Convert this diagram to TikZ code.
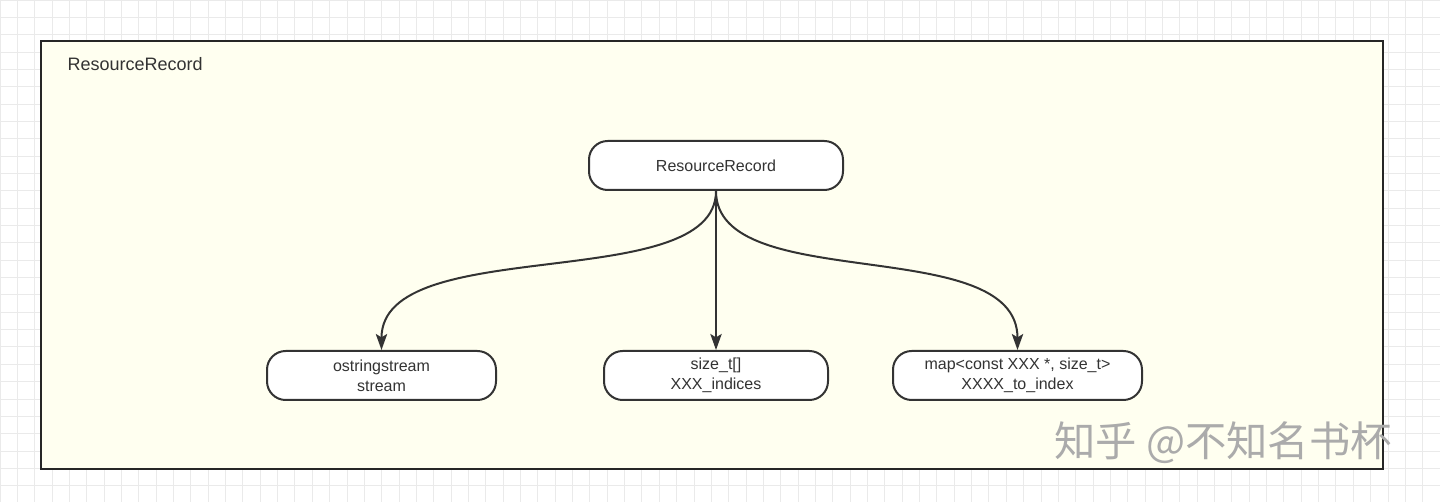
\documentclass[tikz,border=0pt]{standalone}
\usepackage{fontspec}
\setmainfont{Liberation Sans}
\newfontfamily\cjk{Noto Sans CJK SC}
\usetikzlibrary{arrows.meta}
\definecolor{gridc}{HTML}{EAEAEA}
\definecolor{framefill}{HTML}{FFFFF0}
\definecolor{ink}{HTML}{333333}
\definecolor{wm}{HTML}{ABABAB}
\tikzset{
  box/.style={draw=ink, line width=1.5pt, fill=white, rounded corners=14pt,
    minimum height=36.75pt, inner sep=2pt, align=center, text=ink,
    font=\fontsize{12}{15}\selectfont},
  conn/.style={draw=ink, line width=1.5pt,
    -{Stealth[length=12pt, width=8.5pt, inset=2.5pt]}},
  frame/.style={draw=black!85, line width=1.5pt, fill=framefill},
}
\begin{document}
\begin{tikzpicture}[x=0.75pt, y=-0.75pt]
\useasboundingbox (0,0) rectangle (1440,502);
\fill[white] (0,0) rectangle (1440,502);
\draw[gridc, line width=0.75pt, step=13.0125pt] (0,0) grid (1440,502);
\draw[frame] (41,41) rectangle (1383,469);
\node[anchor=west, text=ink, font=\fontsize{13.5}{16}\selectfont] (title) at (63,64) {ResourceRecord};
\node[box, minimum width=190.5pt] (rr) at (716,165.5) {ResourceRecord};
\node[box, minimum width=171.75pt] (os) at (381.5,375.5) {ostringstream\\stream};
\node[box, minimum width=168pt] (idx) at (716,375.5) {size\_t[]\\XXX\_indices};
\node[box, minimum width=186.75pt] (map) at (1017.5,375.5) {map<const XXX *, size\_t>\\XXXX\_to\_index};
\draw[conn] (rr.south) .. controls +(0,105) and +(0,-118) .. (os.north);
\draw[conn] (rr.south) -- (idx.north);
\draw[conn] (rr.south) .. controls +(0,105) and +(0,-118) .. (map.north);
\node[text=wm, font=\cjk\fontsize{31}{34}\selectfont] (wmark) at (1223,443) {知乎 @不知名书杯};
\end{tikzpicture}
\end{document}
